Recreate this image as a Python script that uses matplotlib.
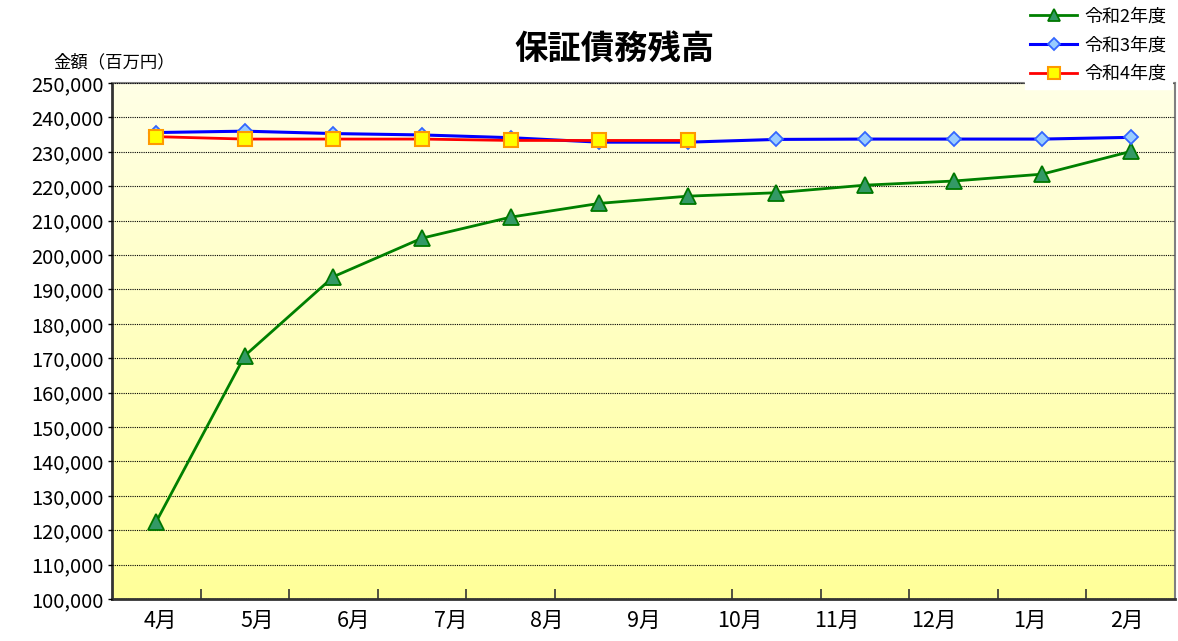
import matplotlib
matplotlib.use("Agg")
import matplotlib.pyplot as plt
import numpy as np
from matplotlib.colors import LinearSegmentedColormap
from matplotlib.ticker import FuncFormatter, FixedLocator

plt.rcParams['font.family'] = ['Noto Sans CJK JP', 'DejaVu Sans']

# ---- data ----
title = "保証債務残高"
y_label = "金額（百万円）"
month_labels = ["4月", "5月", "6月", "7月", "8月", "9月", "10月", "11月", "12月", "1月", "2月"]
series_names = ["令和2年度", "令和3年度", "令和4年度"]
r2_values = [122500, 170750, 193700, 204900, 211000, 215000, 217100, 218100, 220300, 221500, 223500, 230100]
r3_values = [235600, 236000, 235300, 234900, 234100, 232800, 232800, 233600, 233700, 233700, 233700, 234200]
r4_values = [234400, 233700, 233700, 233700, 233300, 233300, 233300]

fig = plt.figure(figsize=(11.78, 6.41), dpi=100)
ax = fig.add_axes([112/1178, 1-599/641, (1175-112)/1178, (599-83)/641])

# gradient background
cmap = LinearSegmentedColormap.from_list("bg", ["#FFFF99", "#FFFFE6"])
grad = np.linspace(0, 1, 256).reshape(-1, 1)
ax.imshow(grad, cmap=cmap, aspect='auto', extent=[0, 1, 0, 1],
          transform=ax.transAxes, origin='lower', zorder=0)

n_pts = len(r2_values)
x_all = np.arange(n_pts)

ax.plot(x_all, r2_values, color="#008000", lw=2, marker='^', ms=11,
        mfc="#339966", mec="#007700", mew=1.3, label=series_names[0], zorder=3)
ax.plot(x_all, r3_values, color="#0000FF", lw=2.2, marker='D', ms=7.5,
        mfc="#99CCFF", mec="#3366FF", mew=1.3, label=series_names[1], zorder=4)
ax.plot(np.arange(len(r4_values)), r4_values, color="#FF0000", lw=2, marker='s', ms=10,
        mfc="#FFFF00", mec="#FF9900", mew=1.5, label=series_names[2], zorder=5)

ax.set_xlim(-0.5, n_pts - 0.5)
ax.set_ylim(100000, 250000)
ax.set_yticks(np.arange(100000, 250001, 10000))
ax.yaxis.set_major_formatter(FuncFormatter(lambda v, p: f"{int(v):,}"))
ax.grid(axis='y', color='black', linestyle=(0, (1, 1)), linewidth=0.8, zorder=1)
ax.set_axisbelow(False)

# labels at 11-category centers, tick marks at 12-category boundaries
nlab = len(month_labels)
lab_pos = [(i + 0.5) * n_pts / nlab - 0.5 for i in range(nlab)]
ax.xaxis.set_major_locator(FixedLocator(lab_pos))
ax.set_xticklabels(month_labels)
ax.xaxis.set_minor_locator(FixedLocator(np.arange(0.5, n_pts - 1, 1.0)))
ax.tick_params(axis='x', which='major', length=0, pad=8, labelsize=15.5)
ax.tick_params(axis='x', which='minor', direction='in', length=7, width=1.2, color='#333333')
ax.tick_params(axis='y', which='major', direction='out', length=3, width=1, labelsize=14.5, pad=3)

for side in ['left', 'bottom']:
    ax.spines[side].set_color('#333333')
    ax.spines[side].set_linewidth(2)
for side in ['top', 'right']:
    ax.spines[side].set_color('#808080')
    ax.spines[side].set_linewidth(1.5)

fig.text(615/1178, 1-50/641, title, ha='center', va='center', fontsize=24, fontweight='bold')
fig.text(114/1178, 1-62/641, y_label, ha='center', va='center', fontsize=12.5)

leg = fig.legend(loc='upper right', bbox_to_anchor=(1172/1178, 1 - 2/641), frameon=True, fancybox=False,
                 fontsize=13, handlelength=2.6, labelspacing=0.6, borderpad=0.3,
                 handletextpad=0.4, borderaxespad=0.0, markerscale=0.8)
leg.get_frame().set_facecolor('white')
leg.get_frame().set_edgecolor('white')
leg.get_frame().set_alpha(1)
leg.set_zorder(10)

fig.savefig("out.png", dpi=100)
